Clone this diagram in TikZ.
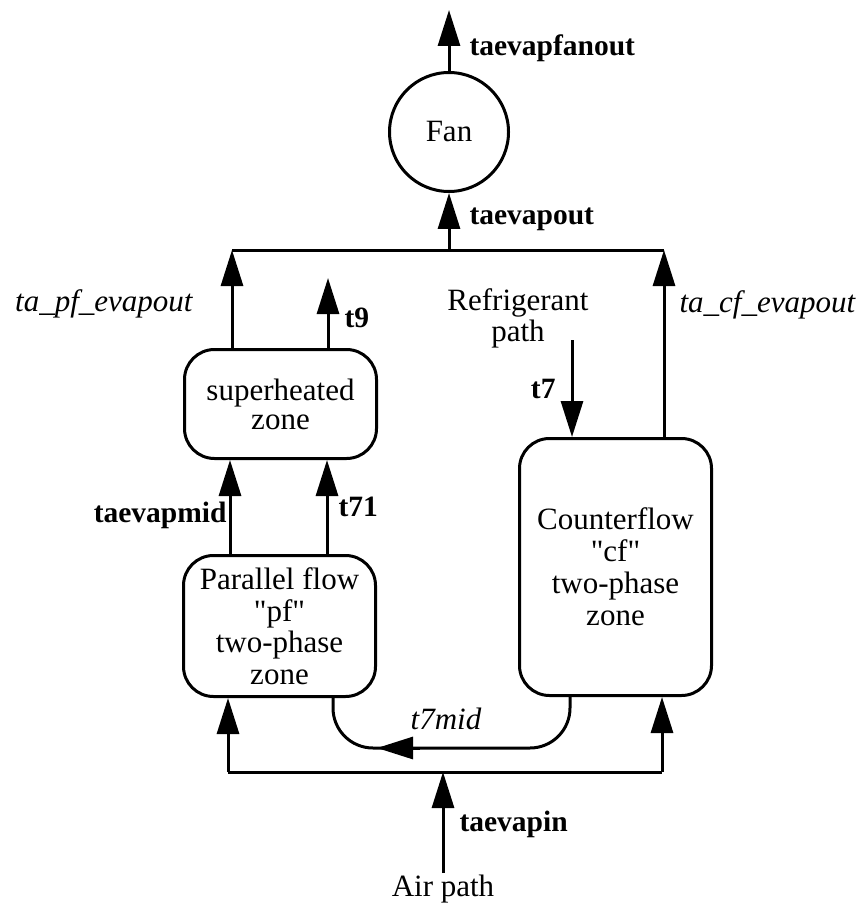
\documentclass[tikz,border=0pt]{standalone}
\usepackage{fontspec}
\setmainfont{Liberation Serif}
\usetikzlibrary{arrows.meta}
\begin{document}
\begin{tikzpicture}[x=1pt,y=-1pt, line width=3pt,
  arr/.style={-{Triangle[length=36pt,width=22pt]}},
  zone/.style={draw, rounded corners=30pt, align=center, minimum width=192pt, inner sep=0pt},
  lbl/.style={inner sep=0pt, font=\fontsize{29.5}{30}\selectfont\bfseries},
  ilbl/.style={inner sep=0pt, font=\fontsize{31}{31}\selectfont\itshape},
  txt/.style={inner sep=0pt, font=\fontsize{31}{31}\selectfont}]
\useasboundingbox (0,0) rectangle (864,909);

% zones
\node[zone, minimum height=109pt, font=\fontsize{31}{29}\selectfont] (sh) at (280.5,404) {superheated\\zone};
\node[zone, minimum height=141pt, font=\fontsize{31}{31.5}\selectfont] (pf) at (279.5,626) {Parallel flow\\\textquotedbl pf\textquotedbl\\two-phase\\zone};
\node[zone, minimum height=257pt, font=\fontsize{31}{32}\selectfont] (cf) at (615.5,567) {Counterflow\\\textquotedbl cf\textquotedbl\\two-phase\\zone};
\node[draw, circle, minimum size=119pt, txt] (fan) at (449,132) {Fan};

% coordinates
\coordinate (tl) at (232,250);
\coordinate (tr) at (664,250);
\coordinate (fanin) at (449,250);
\coordinate (fanout) at (449,10);
\coordinate (t9end) at (328,278);
\coordinate (t7start) at (572,340);
\coordinate (mx1) at (230,500);
\coordinate (mx2) at (327,500);
\coordinate (bl) at (228,772);
\coordinate (br) at (662,772);
\coordinate (bm) at (443,772);
\coordinate (air) at (443,873);
\coordinate (cfo) at (570,748);
\coordinate (pfi) at (333,748);
\coordinate (mbase) at (420,748);
\coordinate (mtip) at (377,748);

% connectors
\draw (tl) -- (tr);
\draw[arr] (sh.north -| tl) -- (tl);
\draw[arr] (sh.north -| t9end) -- (t9end);
\draw[arr] (fanin) -- (fan.south);
\draw[arr] (fan.north) -- (fanout);
\draw[arr] (cf.north -| tr) -- (tr);
\draw[arr] (t7start) -- (cf.north -| t7start);
\draw[arr] (pf.north -| mx1) -- (sh.south -| mx1);
\draw[arr] (pf.north -| mx2) -- (sh.south -| mx2);
\draw (bl) -- (br);
\draw[arr] (bl) -- (pf.south -| bl);
\draw[arr] (br) -- (cf.south -| br);
\draw[arr] (air) -- (bm);
\draw[rounded corners=40pt] (cf.south -| cfo) -- (cfo) -- (pfi) -- (pf.south -| pfi);
\draw[arr] (mbase) -- (mtip);

% labels
\node[lbl, anchor=west] (l1) at (468,48) {taevapfanout};
\node[lbl, anchor=west] (l2) at (468,219) {taevapout};
\node[ilbl, anchor=east] (l3) at (194,304) {ta\_pf\_evapout};
\node[lbl, anchor=west] (l4) at (343,318) {t9};
\node[txt, align=center] (l5) at (518,318) {Refrigerant\\path};
\node[lbl, anchor=east] (l6) at (557,389) {t7};
\node[ilbl, anchor=west] (l7) at (678,305) {ta\_cf\_evapout};
\node[lbl, anchor=east] (l8) at (228,515) {taevapmid};
\node[lbl, anchor=west] (l9) at (337,507) {t71};
\node[ilbl] (l10) at (446,719) {t7mid};
\node[lbl, anchor=west] (l11) at (458,824) {taevapin};
\node[txt] (l12) at (443,889) {Air path};
\end{tikzpicture}
\end{document}
